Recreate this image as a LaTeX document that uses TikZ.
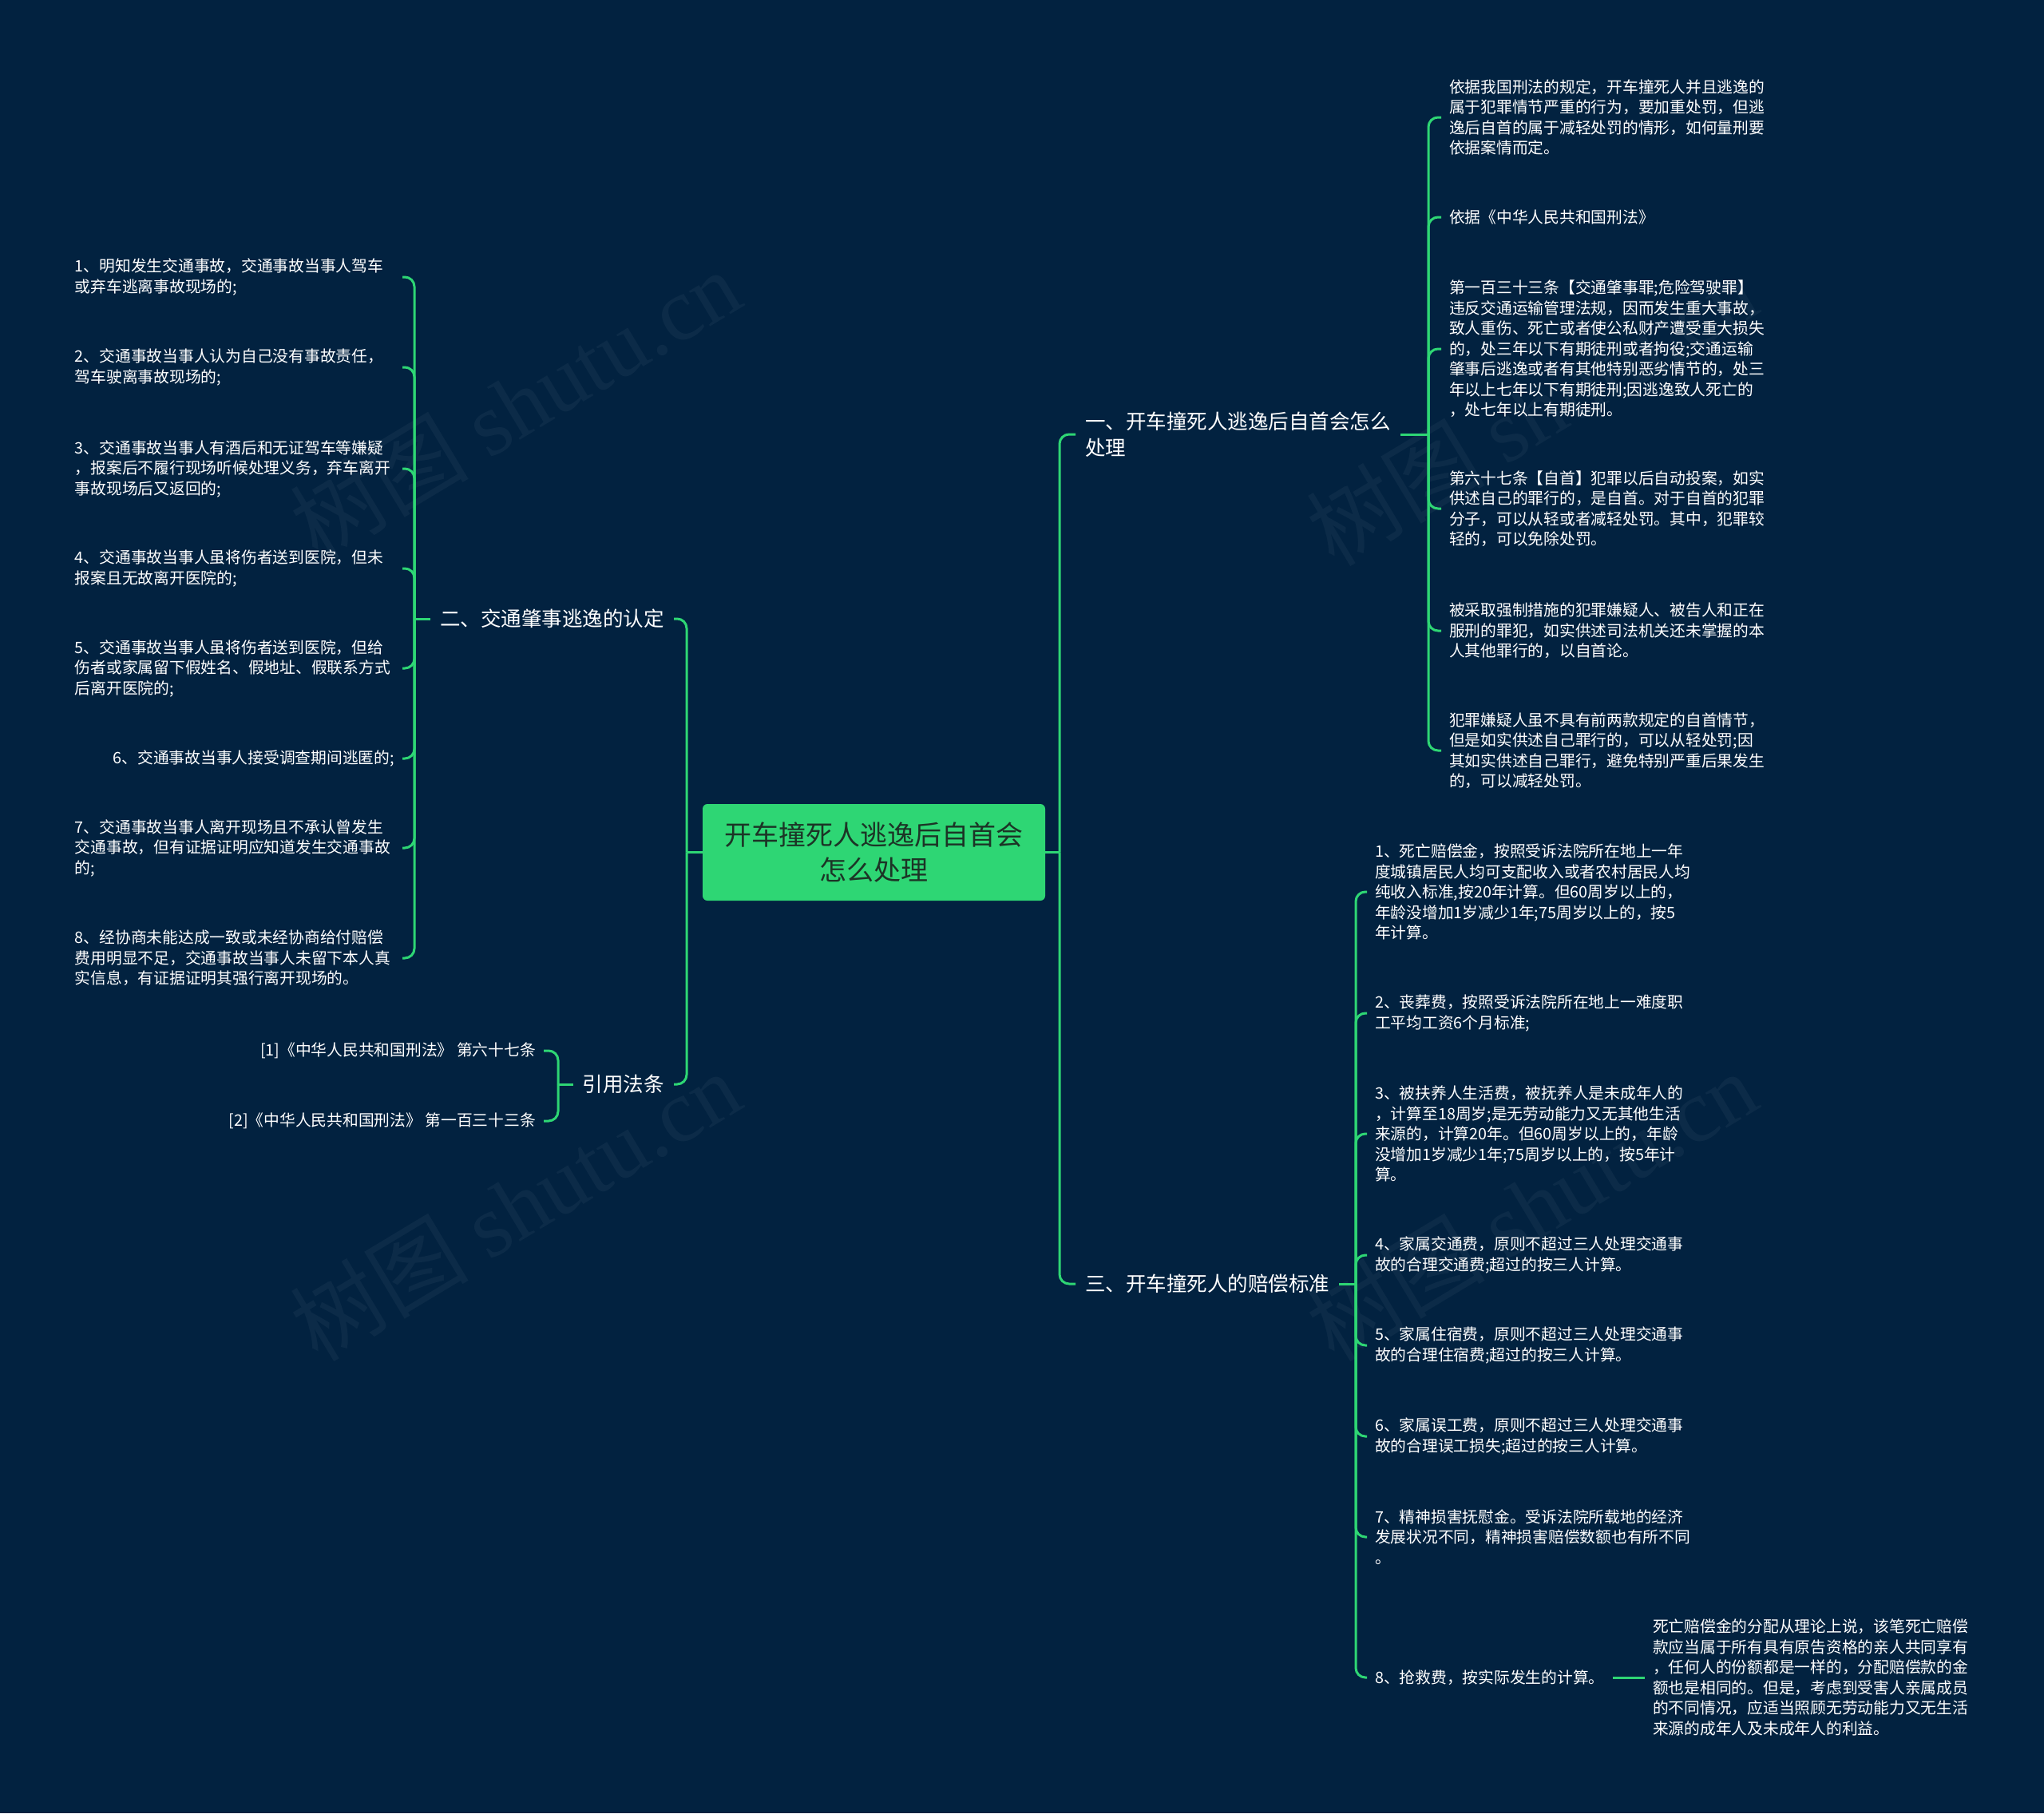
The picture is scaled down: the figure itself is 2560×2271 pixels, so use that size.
\documentclass[tikz,border=0pt]{standalone}
\usepackage{fontspec}
\setmainfont{Noto Sans CJK SC}
\newfontfamily\wmfont{Liberation Serif}
\usepackage{xcolor}
\usetikzlibrary{positioning}
\definecolor{navy}{RGB}{2,34,64}
\definecolor{leafgreen}{RGB}{46,214,116}
\definecolor{rootink}{RGB}{28,52,38}

\begin{document}
\begin{tikzpicture}[
    x=1pt, y=-1pt,
    every node/.style={text=white},
    root/.style={rectangle, fill=leafgreen, rounded corners=6pt, minimum width=429pt, minimum height=121pt, align=center, text=rootink, font=\fontsize{34}{44}\selectfont},
    branch/.style={inner xsep=12pt, inner ysep=2pt, align=left, font=\fontsize{25.5}{33}\selectfont},
    leaf/.style={inner xsep=10pt, inner ysep=2pt, align=left, text width=400pt, font=\fontsize{19.75}{25.5}\selectfont},
    short/.style={inner xsep=10pt, inner ysep=2pt, font=\fontsize{19.75}{25.5}\selectfont},
    watermark/.style={rotate=31, text=white, opacity=0.045, font=\fontsize{112}{112}\selectfont},
    link/.style={draw=leafgreen, line width=3pt, rounded corners=12pt}
]

% Background
\fill[navy] (0,0) rectangle (2560,2271);
\node[watermark] (wm1) at (645,506) {树图 {\wmfont shutu.cn}};
\node[watermark] (wm2) at (645,1510) {树图 {\wmfont shutu.cn}};
\node[watermark] (wm3) at (1918,514) {树图 {\wmfont shutu.cn}};
\node[watermark] (wm4) at (1918,1510) {树图 {\wmfont shutu.cn}};

% Nodes
\node[root] (root) at (1094.5,1067.5) {开车撞死人逃逸后自首会\\怎么处理};
\node[branch, anchor=west] (chuli) at (1347,544) {一、开车撞死人逃逸后自首会怎么\\处理};
\node[branch, anchor=west] (peichang) at (1347,1608) {三、开车撞死人的赔偿标准};
\node[branch, anchor=east] (rending) at (844,775) {二、交通肇事逃逸的认定};
\node[branch, anchor=east] (fatiao) at (844,1358) {引用法条};

% 一
\node[leaf, anchor=west] (yiju) at (1805,147) {依据我国刑法的规定，开车撞死人并且逃逸的\\属于犯罪情节严重的行为，要加重处罚，但逃\\逸后自首的属于减轻处罚的情形，如何量刑要\\依据案情而定。};
\node[short, anchor=west] (xingfa) at (1805,272) {依据《中华人民共和国刑法》};
\node[leaf, anchor=west] (tiao133) at (1805,437) {第一百三十三条【交通肇事罪;危险驾驶罪】\\违反交通运输管理法规，因而发生重大事故，\\致人重伤、死亡或者使公私财产遭受重大损失\\的，处三年以下有期徒刑或者拘役;交通运输\\肇事后逃逸或者有其他特别恶劣情节的，处三\\年以上七年以下有期徒刑;因逃逸致人死亡的\\，处七年以上有期徒刑。};
\node[leaf, anchor=west] (tiao67) at (1805,637) {第六十七条【自首】犯罪以后自动投案，如实\\供述自己的罪行的，是自首。对于自首的犯罪\\分子，可以从轻或者减轻处罚。其中，犯罪较\\轻的，可以免除处罚。};
\node[leaf, anchor=west] (qiangzhi) at (1805,790) {被采取强制措施的犯罪嫌疑人、被告人和正在\\服刑的罪犯，如实供述司法机关还未掌握的本\\人其他罪行的，以自首论。};
\node[leaf, anchor=west] (xianyi) at (1805,940) {犯罪嫌疑人虽不具有前两款规定的自首情节，\\但是如实供述自己罪行的，可以从轻处罚;因\\其如实供述自己罪行，避免特别严重后果发生\\的，可以减轻处罚。};

% 三
\node[leaf, anchor=west] (p1) at (1712,1117) {1、死亡赔偿金，按照受诉法院所在地上一年\\度城镇居民人均可支配收入或者农村居民人均\\纯收入标准,按20年计算。但60周岁以上的，\\年龄没增加1岁减少1年;75周岁以上的，按5\\年计算。};
\node[leaf, anchor=west] (p2) at (1712,1269) {2、丧葬费，按照受诉法院所在地上一难度职\\工平均工资6个月标准;};
\node[leaf, anchor=west] (p3) at (1712,1420) {3、被扶养人生活费，被抚养人是未成年人的\\，计算至18周岁;是无劳动能力又无其他生活\\来源的，计算20年。但60周岁以上的，年龄\\没增加1岁减少1年;75周岁以上的，按5年计\\算。};
\node[leaf, anchor=west] (p4) at (1712,1572) {4、家属交通费，原则不超过三人处理交通事\\故的合理交通费;超过的按三人计算。};
\node[leaf, anchor=west] (p5) at (1712,1685) {5、家属住宿费，原则不超过三人处理交通事\\故的合理住宿费;超过的按三人计算。};
\node[leaf, anchor=west] (p6) at (1712,1799) {6、家属误工费，原则不超过三人处理交通事\\故的合理误工损失;超过的按三人计算。};
\node[leaf, anchor=west] (p7) at (1712,1925) {7、精神损害抚慰金。受诉法院所载地的经济\\发展状况不同，精神损害赔偿数额也有所不同\\。};
\node[short, anchor=west] (p8) at (1712,2101) {8、抢救费，按实际发生的计算。};
\node[leaf, anchor=west] (fenpei) at (2060,2101) {死亡赔偿金的分配从理论上说，该笔死亡赔偿\\款应当属于所有具有原告资格的亲人共同享有\\，任何人的份额都是一样的，分配赔偿款的金\\额也是相同的。但是，考虑到受害人亲属成员\\的不同情况，应适当照顾无劳动能力又无生活\\来源的成年人及未成年人的利益。};

% 二
\node[leaf, anchor=east] (r1) at (504,347) {1、明知发生交通事故，交通事故当事人驾车\\或弃车逃离事故现场的;};
\node[leaf, anchor=east] (r2) at (504,460) {2、交通事故当事人认为自己没有事故责任，\\驾车驶离事故现场的;};
\node[leaf, anchor=east] (r3) at (504,587) {3、交通事故当事人有酒后和无证驾车等嫌疑\\，报案后不履行现场听候处理义务，弃车离开\\事故现场后又返回的;};
\node[leaf, anchor=east] (r4) at (504,712) {4、交通事故当事人虽将伤者送到医院，但未\\报案且无故离开医院的;};
\node[leaf, anchor=east] (r5) at (504,837) {5、交通事故当事人虽将伤者送到医院，但给\\伤者或家属留下假姓名、假地址、假联系方式\\后离开医院的;};
\node[short, anchor=east] (r6) at (504,950) {6、交通事故当事人接受调查期间逃匿的;};
\node[leaf, anchor=east] (r7) at (504,1062) {7、交通事故当事人离开现场且不承认曾发生\\交通事故，但有证据证明应知道发生交通事故\\的;};
\node[leaf, anchor=east] (r8) at (504,1200) {8、经协商未能达成一致或未经协商给付赔偿\\费用明显不足，交通事故当事人未留下本人真\\实信息，有证据证明其强行离开现场的。};

% 引用法条
\node[short, anchor=east] (cite1) at (681,1316) {[1]《中华人民共和国刑法》 第六十七条};
\node[short, anchor=east] (cite2) at (681,1404) {[2]《中华人民共和国刑法》 第一百三十三条};

% Junctions
\coordinate (rj) at (1327,1067.5);
\coordinate (lj) at (860,1067.5);
\coordinate (cj) at (1789,544);
\coordinate (pj) at (1698,1608);
\coordinate (dj) at (519,775);
\coordinate (fj) at (699,1358);

% Links
\draw[link] (root.east) -- (rj);
\draw[link] (rj) |- (chuli.west);
\draw[link] (rj) |- (peichang.west);
\draw[link] (root.west) -- (lj);
\draw[link] (lj) |- (rending.east);
\draw[link] (lj) |- (fatiao.east);

\draw[link] (chuli.east) -- (cj);
\foreach \n in {yiju,xingfa,tiao133,tiao67,qiangzhi,xianyi}
    \draw[link] (cj) |- (\n.west);

\draw[link] (peichang.east) -- (pj);
\foreach \n in {p1,p2,p3,p4,p5,p6,p7,p8}
    \draw[link] (pj) |- (\n.west);
\draw[link] (p8.east) -- (fenpei.west);

\draw[link] (rending.west) -- (dj);
\foreach \n in {r1,r2,r3,r4,r5,r6,r7,r8}
    \draw[link] (dj) |- (\n.east);

\draw[link] (fatiao.west) -- (fj);
\draw[link] (fj) |- (cite1.east);
\draw[link] (fj) |- (cite2.east);

\end{tikzpicture}
\end{document}
